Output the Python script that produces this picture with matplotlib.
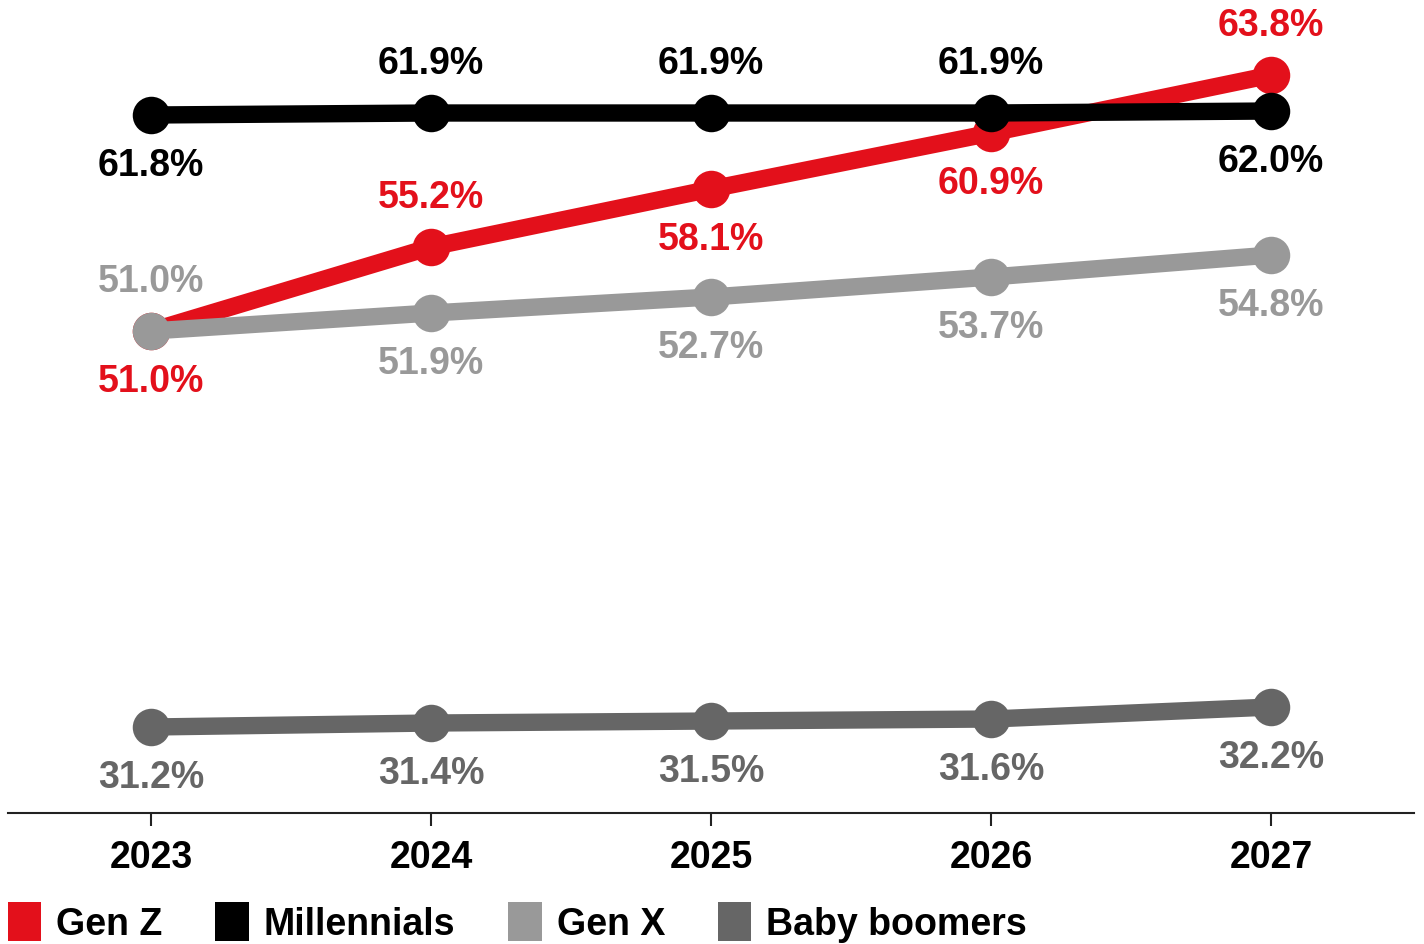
import matplotlib.pyplot as plt
from matplotlib.patches import Patch

plt.rcParams["font.family"] = ["Liberation Sans", "DejaVu Sans"]

years = [2023, 2024, 2025, 2026, 2027]
series_names = ["Gen Z", "Millennials", "Gen X", "Baby boomers"]
gen_z = [51.0, 55.2, 58.1, 60.9, 63.8]
millennials = [61.8, 61.9, 61.9, 61.9, 62.0]
gen_x = [51.0, 51.9, 52.7, 53.7, 54.8]
boomers = [31.2, 31.4, 31.5, 31.6, 32.2]

colors = {"Gen Z": "#e3101b", "Millennials": "#000000",
          "Gen X": "#999999", "Baby boomers": "#666666"}

# label side for each point: +1 above, -1 below
sides = {
    "Gen Z": [-1, 1, -1, -1, 1],
    "Millennials": [-1, 1, 1, 1, -1],
    "Gen X": [1, -1, -1, -1, -1],
    "Baby boomers": [-1, -1, -1, -1, -1],
}
values = {"Gen Z": gen_z, "Millennials": millennials,
          "Gen X": gen_x, "Baby boomers": boomers}
draw_order = ["Baby boomers", "Gen Z", "Gen X", "Millennials"]

fig = plt.figure(figsize=(14.24, 9.45), dpi=100)
ax = fig.add_axes([0.0056, 0.1386, 0.9874, 0.8614])

for name in draw_order:
    ys = values[name]
    c = colors[name]
    ax.plot(years, ys, color=c, lw=12.5, marker="o", ms=27, mew=0,
            solid_capstyle="butt", zorder=2)
    for x, y, s in zip(years, ys, sides[name]):
        ax.annotate("{:.1f}%".format(y), (x, y), xytext=(0, 36 * s),
                    textcoords="offset points", ha="center", va="center",
                    fontsize=27, fontweight="bold", color=c, zorder=5)

ax.set_xlim(2022.489, 2027.51)
ax.set_ylim(26.9, 67.6)
for sp in ["top", "right", "left"]:
    ax.spines[sp].set_visible(False)
ax.spines["bottom"].set_linewidth(1.5)
ax.spines["bottom"].set_color("#222222")
ax.set_yticks([])
ax.set_xticks(years)
ax.set_xticklabels([str(y) for y in years], fontsize=27, fontweight="bold")
ax.tick_params(axis="x", direction="out", length=9, width=1.5,
               color="#222222", pad=10)

handles = [Patch(facecolor=colors[n], edgecolor="none", label=n)
           for n in series_names]
fig.legend(handles=handles, loc="lower left", bbox_to_anchor=(0.004, 0.0),
           ncol=4, frameon=False, handlelength=0.9,
           handleheight=1.2, handletextpad=0.4, columnspacing=1.4,
           borderaxespad=0, borderpad=0.05,
           prop={"size": 27, "weight": "bold"})

fig.savefig("out.png", dpi=100)
